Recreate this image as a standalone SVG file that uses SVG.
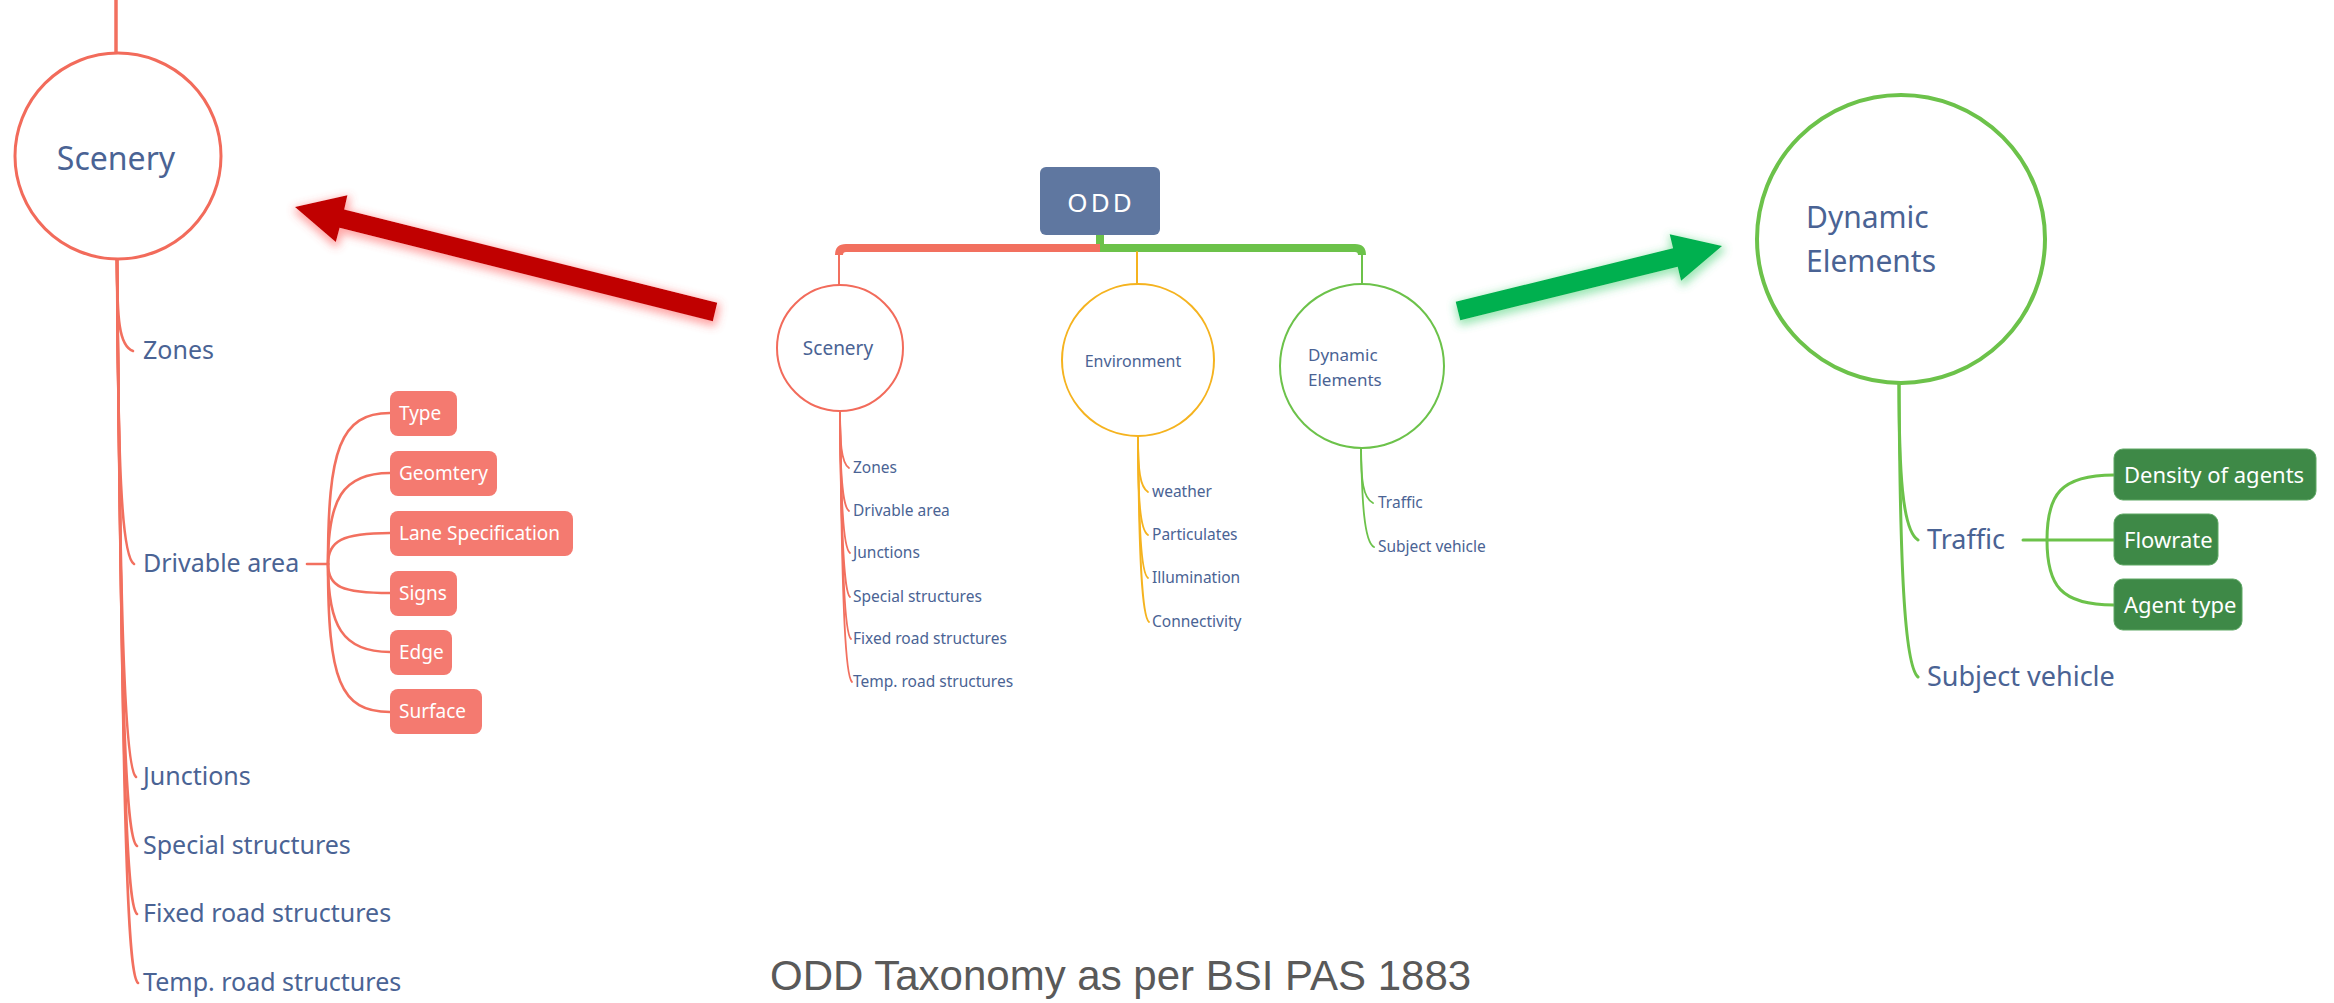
<svg xmlns="http://www.w3.org/2000/svg" width="2334" height="1003" viewBox="0 0 2334 1003">
<defs>
<style>
.hw{font-family:'Noto Sans','Open Sans',sans-serif;fill:#4A6394}
.bt{font-family:'Noto Sans','Open Sans',sans-serif;fill:#FFFFFF}
.red{stroke:#F2705F;fill:none;stroke-linecap:round}
.yel{stroke:#F5B31F;fill:none;stroke-linecap:round}
.grn{stroke:#6CC24A;fill:none;stroke-linecap:round}
.sbox{fill:#F47A70}
.gbox{fill:#3E8947;stroke:#5FA865;stroke-width:1}
</style>
<linearGradient id="fadeG" x1="0" y1="0" x2="0" y2="1">
<stop offset="0" stop-color="#6CC24A" stop-opacity="0"/>
<stop offset="0.5" stop-color="#6CC24A" stop-opacity="1"/>
</linearGradient>
<filter id="glowR" x="-10%" y="-40%" width="120%" height="180%">
<feMorphology in="SourceAlpha" operator="dilate" radius="2" result="d"/>
<feGaussianBlur in="d" stdDeviation="4" result="b"/>
<feOffset in="b" dx="1" dy="3" result="o"/>
<feFlood flood-color="#FF5050" flood-opacity="0.5"/>
<feComposite in2="o" operator="in" result="g"/>
<feMerge><feMergeNode in="g"/><feMergeNode in="SourceGraphic"/></feMerge>
</filter>
<filter id="glowG" x="-10%" y="-40%" width="120%" height="180%">
<feMorphology in="SourceAlpha" operator="dilate" radius="2" result="d"/>
<feGaussianBlur in="d" stdDeviation="4" result="b"/>
<feOffset in="b" dx="1" dy="3" result="o"/>
<feFlood flood-color="#40D070" flood-opacity="0.5"/>
<feComposite in2="o" operator="in" result="g"/>
<feMerge><feMergeNode in="g"/><feMergeNode in="SourceGraphic"/></feMerge>
</filter>
</defs>
<rect width="2334" height="1003" fill="#FFFFFF"/>

<g id="connectors">
<!-- left detail view -->
<line class="red" x1="116" y1="0" x2="116" y2="54" stroke-width="3.5"/>
<g class="red" stroke-width="2.6">
<path d="M117,259 C117,320 119,346 133,351"/>
<path d="M117,259 C118,460 121,556 134,564"/>
<path d="M117,259 C120,600 124,768 136,777"/>
<path d="M117,259 C121,700 125,838 137,846"/>
<path d="M117,259 C122,760 126,906 137,914"/>
<path d="M117,259 C123,820 127,975 138,983"/>
<path d="M307,564 H328"/>
<path d="M328,564 C328,450 340,413 390,413"/>
<path d="M328,564 C328,500 342,473 390,473"/>
<path d="M328,564 C328,541 342,533 390,533"/>
<path d="M328,564 C328,587 342,593 390,593"/>
<path d="M328,564 C328,625 342,652 390,652"/>
<path d="M328,564 C328,680 340,712 390,712"/>
</g>
<!-- central overview -->
<line x1="1100" y1="235" x2="1100" y2="250" stroke="#6CC24A" stroke-width="8"/>
<path d="M1100,248 H846 Q839,248 839,255" stroke="#F2705F" stroke-width="8" fill="none"/>
<path d="M1100,248 H1355 Q1362,248 1362,255" stroke="#6CC24A" stroke-width="8" fill="none"/>
<line class="red" x1="839" y1="252" x2="839" y2="285" stroke-width="2"/>
<line class="yel" x1="1137" y1="252" x2="1137" y2="284" stroke-width="2"/>
<line class="grn" x1="1362" y1="252" x2="1362" y2="285" stroke-width="2"/>
<g class="red" stroke-width="1.8">
<path d="M840,412 C840,440 841,463 849,468"/>
<path d="M840,412 C840,470 842,506 849,511"/>
<path d="M840,412 C841,500 843,548 850,553"/>
<path d="M840,412 C841,540 844,592 850,597"/>
<path d="M840,412 C842,580 845,634 851,639"/>
<path d="M840,412 C842,620 846,677 852,682"/>
</g>
<g class="yel" stroke-width="1.8">
<path d="M1138,437 C1138,470 1140,487 1148,492"/>
<path d="M1138,437 C1138,500 1140,530 1148,535"/>
<path d="M1138,437 C1139,530 1141,573 1148,578"/>
<path d="M1138,437 C1139,560 1142,617 1149,622"/>
</g>
<g class="grn" stroke-width="1.8">
<path d="M1361,448 C1361,480 1363,498 1373,503"/>
<path d="M1361,448 C1362,500 1364,542 1374,547"/>
</g>
<!-- right detail view -->
<line x1="1899" y1="40" x2="1899" y2="95" stroke="url(#fadeG)" stroke-width="4"/>
<g class="grn" stroke-width="3">
<path d="M1899,383 C1899,470 1902,530 1918,540"/>
<path d="M1899,383 C1900,560 1904,665 1918,677"/>
<path d="M2023,540 H2114"/>
<path d="M2047,540 C2047,495 2060,475 2114,475"/>
<path d="M2047,540 C2047,585 2060,605 2114,605"/>
</g>
<!-- big arrows -->
<polygon filter="url(#glowR)" fill="#C00000" points="295,207 347.4,195.3 344.2,209.4 717.2,302.8 712.8,321.2 339.6,227.8 335.8,241.9"/>
<polygon filter="url(#glowG)" fill="#00B050" points="1722,246 1669.7,234.2 1673.1,248.3 1455.7,301.8 1460.3,320.2 1677.7,266.7 1681.1,280.8"/>
</g>

<g id="node-scenery-detail">
<circle cx="118" cy="156" r="103" fill="#FFFFFF" stroke="#F26B5B" stroke-width="3"/>
<text class="hw" x="116" y="170" font-size="32" text-anchor="middle">Scenery</text>
</g>
<g id="node-zones-l"><text class="hw" x="143" y="359" font-size="25">Zones</text></g>
<g id="node-drivable-l"><text class="hw" x="143" y="572" font-size="25">Drivable area</text></g>
<g id="node-junctions-l"><text class="hw" x="143" y="785" font-size="25">Junctions</text></g>
<g id="node-special-l"><text class="hw" x="143" y="854" font-size="25">Special structures</text></g>
<g id="node-fixed-l"><text class="hw" x="143" y="922" font-size="25">Fixed road structures</text></g>
<g id="node-temp-l"><text class="hw" x="143" y="991" font-size="25">Temp. road structures</text></g>

<g id="node-type"><rect class="sbox" x="390" y="391" width="67" height="45" rx="8"/><text class="bt" x="399" y="419.5" font-size="19">Type</text></g>
<g id="node-geomtery"><rect class="sbox" x="390" y="451" width="107" height="45" rx="8"/><text class="bt" x="399" y="479.5" font-size="19">Geomtery</text></g>
<g id="node-lane"><rect class="sbox" x="390" y="511" width="183" height="45" rx="8"/><text class="bt" x="399" y="539.5" font-size="19">Lane Specification</text></g>
<g id="node-signs"><rect class="sbox" x="390" y="571" width="67" height="45" rx="8"/><text class="bt" x="399" y="599.5" font-size="19">Signs</text></g>
<g id="node-edge"><rect class="sbox" x="390" y="630" width="62" height="45" rx="8"/><text class="bt" x="399" y="658.5" font-size="19">Edge</text></g>
<g id="node-surface"><rect class="sbox" x="390" y="689" width="92" height="45" rx="8"/><text class="bt" x="399" y="717.5" font-size="19">Surface</text></g>

<g id="node-odd">
<rect x="1040" y="167" width="120" height="68" rx="6" fill="#5F77A0"/>
<text class="bt" x="1101" y="212" font-size="26" letter-spacing="3" text-anchor="middle">ODD</text>
</g>
<g id="node-scenery">
<circle cx="840" cy="348" r="63" fill="#FFFFFF" stroke="#F26B5B" stroke-width="2"/>
<text class="hw" x="838" y="355" font-size="19" text-anchor="middle">Scenery</text>
</g>
<g id="node-environment">
<circle cx="1138" cy="360" r="76" fill="#FFFFFF" stroke="#F5B31F" stroke-width="2"/>
<text class="hw" x="1133" y="367" font-size="16" text-anchor="middle">Environment</text>
</g>
<g id="node-dynamic">
<circle cx="1362" cy="366" r="82" fill="#FFFFFF" stroke="#6CC24A" stroke-width="2"/>
<text class="hw" x="1308" y="361" font-size="17">Dynamic</text>
<text class="hw" x="1308" y="386" font-size="17">Elements</text>
</g>
<g id="node-zones"><text class="hw" x="853" y="473" font-size="15.5">Zones</text></g>
<g id="node-drivable"><text class="hw" x="853" y="516" font-size="15.5">Drivable area</text></g>
<g id="node-junctions"><text class="hw" x="853" y="558" font-size="15.5">Junctions</text></g>
<g id="node-special"><text class="hw" x="853" y="602" font-size="15.5">Special structures</text></g>
<g id="node-fixed"><text class="hw" x="853" y="644" font-size="15.5">Fixed road structures</text></g>
<g id="node-temp"><text class="hw" x="853" y="687" font-size="15.5">Temp. road structures</text></g>
<g id="node-weather"><text class="hw" x="1152" y="497" font-size="15.5">weather</text></g>
<g id="node-particulates"><text class="hw" x="1152" y="540" font-size="15.5">Particulates</text></g>
<g id="node-illumination"><text class="hw" x="1152" y="583" font-size="15.5">Illumination</text></g>
<g id="node-connectivity"><text class="hw" x="1152" y="627" font-size="15.5">Connectivity</text></g>
<g id="node-traffic"><text class="hw" x="1378" y="508" font-size="15.5">Traffic</text></g>
<g id="node-subject"><text class="hw" x="1378" y="552" font-size="15.5">Subject vehicle</text></g>

<g id="node-dynamic-detail">
<circle cx="1901" cy="239" r="144" fill="#FFFFFF" stroke="#6CC24A" stroke-width="4"/>
<text class="hw" x="1806" y="228" font-size="30">Dynamic</text>
<text class="hw" x="1806" y="272" font-size="30">Elements</text>
</g>
<g id="node-traffic-r"><text class="hw" x="1927" y="549" font-size="27">Traffic</text></g>
<g id="node-subject-r"><text class="hw" x="1927" y="686" font-size="27">Subject vehicle</text></g>
<g id="node-density"><rect class="gbox" x="2114" y="449" width="202" height="51" rx="9"/><text class="bt" x="2124" y="482.5" font-size="22">Density of agents</text></g>
<g id="node-flowrate"><rect class="gbox" x="2114" y="514" width="104" height="51" rx="9"/><text class="bt" x="2124" y="547.5" font-size="22">Flowrate</text></g>
<g id="node-agenttype"><rect class="gbox" x="2114" y="579" width="128" height="51" rx="9"/><text class="bt" x="2124" y="612.5" font-size="22">Agent type</text></g>

<g id="caption">
<text x="770" y="990" font-family="'Liberation Sans',Arial,sans-serif" font-size="42" fill="#595959">ODD Taxonomy as per BSI PAS 1883</text>
</g>
</svg>
